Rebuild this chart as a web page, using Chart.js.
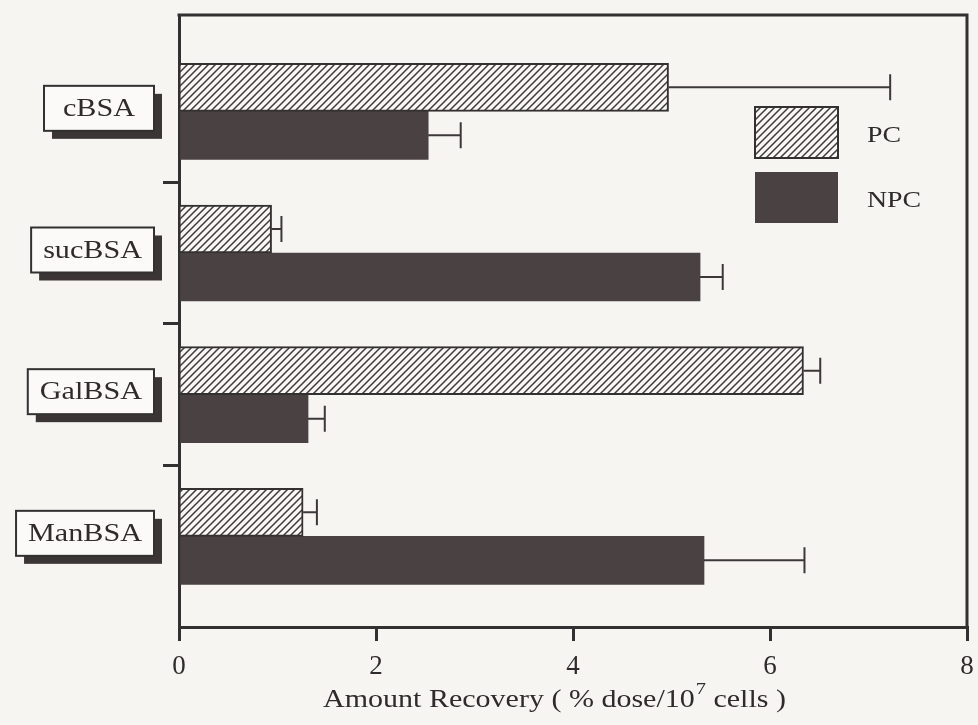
<!DOCTYPE html>
<html>
<head>
<meta charset="utf-8">
<script src="https://cdn.jsdelivr.net/npm/chart.js@4.4.0/dist/chart.umd.min.js"></script>
<style>
  html, body { margin: 0; padding: 0; background: #f6f5f2; }
</style>
</head>
<body>
<canvas id="recoveryChart" width="978" height="725"></canvas>
<script>
const categories = ['cBSA', 'sucBSA', 'GalBSA', 'ManBSA'];
const seriesNames = ['PC', 'NPC'];
const pcValues = [4.97, 0.94, 6.34, 1.26];
const pcErrors = [2.25, 0.10, 0.17, 0.14];
const npcValues = [2.53, 5.29, 1.31, 5.33];
const npcErrors = [0.33, 0.23, 0.17, 1.02];
const xTicks = [0, 2, 4, 6, 8];
const dividerTicks = [0.5, 1.5, 2.5];

const INK = '#333031';
const DARK = '#4a4143';
const SERIF = '"Liberation Serif", "Times New Roman", serif';
const STRETCH = 1.16;

// diagonal hatch for the PC bars
function hatchPattern() {
  const s = 7;
  const c = document.createElement('canvas');
  c.width = s; c.height = s;
  const g = c.getContext('2d');
  g.fillStyle = '#f8f7f5';
  g.fillRect(0, 0, s, s);
  g.strokeStyle = '#3e3a3b';
  g.lineWidth = 1.5;
  g.beginPath();
  g.moveTo(-1, s + 1); g.lineTo(s + 1, -1);
  g.moveTo(-1, 1); g.lineTo(1, -1);
  g.moveTo(s - 1, s + 1); g.lineTo(s + 1, s - 1);
  g.stroke();
  return g.createPattern(c, 'repeat');
}
const hatch = hatchPattern();

function stretchedText(ctx, text, x, y, align, k) {
  ctx.save();
  ctx.translate(x, y);
  ctx.scale(k || STRETCH, 1);
  ctx.textAlign = align;
  ctx.textBaseline = 'middle';
  ctx.fillText(text, 0, 0);
  ctx.restore();
}

const toPoints = vals => vals.map((v, i) => ({ x: v, y: i }));

// top and right edges of the plot frame
const framePlugin = {
  id: 'frame',
  afterDraw(chart) {
    const { ctx, chartArea: a } = chart;
    ctx.save();
    ctx.strokeStyle = INK;
    ctx.lineWidth = 3;
    ctx.beginPath();
    ctx.moveTo(a.left - 1.5, a.top);
    ctx.lineTo(a.right, a.top);
    ctx.lineTo(a.right, a.bottom);
    ctx.stroke();
    ctx.restore();
  }
};

const errorBarPlugin = {
  id: 'errorBars',
  afterDatasetsDraw(chart) {
    const { ctx } = chart;
    const xs = chart.scales.x;
    const errs = [pcErrors, npcErrors];
    ctx.save();
    ctx.strokeStyle = '#3c3839';
    ctx.lineWidth = 2;
    chart.data.datasets.forEach((ds, d) => {
      chart.getDatasetMeta(d).data.forEach((bar, i) => {
        const end = xs.getPixelForValue(ds.data[i].x + errs[d][i]);
        ctx.beginPath();
        ctx.moveTo(bar.x, bar.y);
        ctx.lineTo(end, bar.y);
        ctx.moveTo(end, bar.y - 13);
        ctx.lineTo(end, bar.y + 13);
        ctx.stroke();
      });
    });
    ctx.restore();
  }
};

// boxed category names with drop shadow, legend and axis title
const annotationPlugin = {
  id: 'annotations',
  afterDraw(chart) {
    const { ctx } = chart;
    const ys = chart.scales.y;
    ctx.save();
    ctx.font = '26px ' + SERIF;
    categories.forEach((name, i) => {
      const cy = ys.getPixelForValue(i) - 3;
      const tw = ctx.measureText(name).width * STRETCH;
      const w = Math.max(110, tw + 24);
      const h = 45;
      const left = 154 - w;
      ctx.fillStyle = '#3b3536';
      ctx.fillRect(left + 8, cy - h / 2 + 8, w, h);
      ctx.fillStyle = '#fbfaf8';
      ctx.fillRect(left, cy - h / 2, w, h);
      ctx.strokeStyle = INK;
      ctx.lineWidth = 2;
      ctx.strokeRect(left, cy - h / 2, w, h);
      ctx.fillStyle = '#2f2b2c';
      stretchedText(ctx, name, left + w / 2, cy + 1, 'center');
    });

    // legend
    const fills = [hatch, DARK];
    seriesNames.forEach((name, i) => {
      const top = 107 + i * 65;
      ctx.fillStyle = fills[i];
      ctx.fillRect(755, top, 83, 51);
      if (i === 0) {
        ctx.strokeStyle = INK;
        ctx.lineWidth = 2;
        ctx.strokeRect(755, top, 83, 51);
      }
      ctx.fillStyle = '#2f2b2c';
      ctx.font = '24px ' + SERIF;
      stretchedText(ctx, name, 867, top + 29, 'left');
    });

    // x axis title with superscript exponent
    const k = 1.2;
    const parts = ['Amount Recovery ( % dose/10', '7', ' cells )'];
    ctx.font = '25px ' + SERIF;
    const w0 = ctx.measureText(parts[0]).width;
    const w2 = ctx.measureText(parts[2]).width;
    ctx.font = '17px ' + SERIF;
    const w1 = ctx.measureText(parts[1]).width;
    const total = (w0 + w1 + w2) * k;
    let x = 554 - total / 2;
    const y = 700;
    ctx.fillStyle = '#2f2b2c';
    ctx.font = '25px ' + SERIF;
    stretchedText(ctx, parts[0], x, y, 'left', k);
    x += w0 * k;
    ctx.font = '17px ' + SERIF;
    stretchedText(ctx, parts[1], x + 1, y - 10, 'left', k);
    x += w1 * k + 1;
    ctx.font = '25px ' + SERIF;
    stretchedText(ctx, parts[2], x, y, 'left', k);
    ctx.restore();
  }
};

new Chart(document.getElementById('recoveryChart'), {
  type: 'bar',
  data: {
    datasets: [
      {
        label: seriesNames[0],
        data: toPoints(pcValues),
        backgroundColor: hatch,
        borderColor: INK,
        borderWidth: 2,
        borderSkipped: 'left'
      },
      {
        label: seriesNames[1],
        data: toPoints(npcValues),
        backgroundColor: DARK,
        borderWidth: 0
      }
    ]
  },
  options: {
    indexAxis: 'y',
    responsive: false,
    animation: false,
    barThickness: 48,
    layout: { padding: { top: 15, right: 11, left: 0, bottom: 0 } },
    plugins: {
      legend: { display: false },
      tooltip: { enabled: false }
    },
    scales: {
      x: {
        type: 'linear',
        min: 0,
        max: 8,
        afterBuildTicks: s => { s.ticks = xTicks.map(v => ({ value: v })); },
        afterFit: s => { s.height = 98; s.paddingLeft = 0; s.paddingRight = 0; },
        ticks: {
          color: '#2f2b2c',
          font: { family: SERIF, size: 27 },
          padding: 10,
          maxRotation: 0
        },
        grid: { drawOnChartArea: false, tickLength: 14, lineWidth: 3, color: INK },
        border: { width: 3, color: INK }
      },
      y: {
        type: 'linear',
        reverse: true,
        offset: false,
        min: -0.68,
        max: 3.64,
        afterBuildTicks: s => { s.ticks = dividerTicks.map(v => ({ value: v })); },
        afterFit: s => { s.width = 179; },
        ticks: { display: false },
        grid: { offset: false, drawOnChartArea: false, tickLength: 16, lineWidth: 3, color: INK },
        border: { width: 3, color: INK }
      }
    }
  },
  plugins: [framePlugin, errorBarPlugin, annotationPlugin]
});
</script>
</body>
</html>
